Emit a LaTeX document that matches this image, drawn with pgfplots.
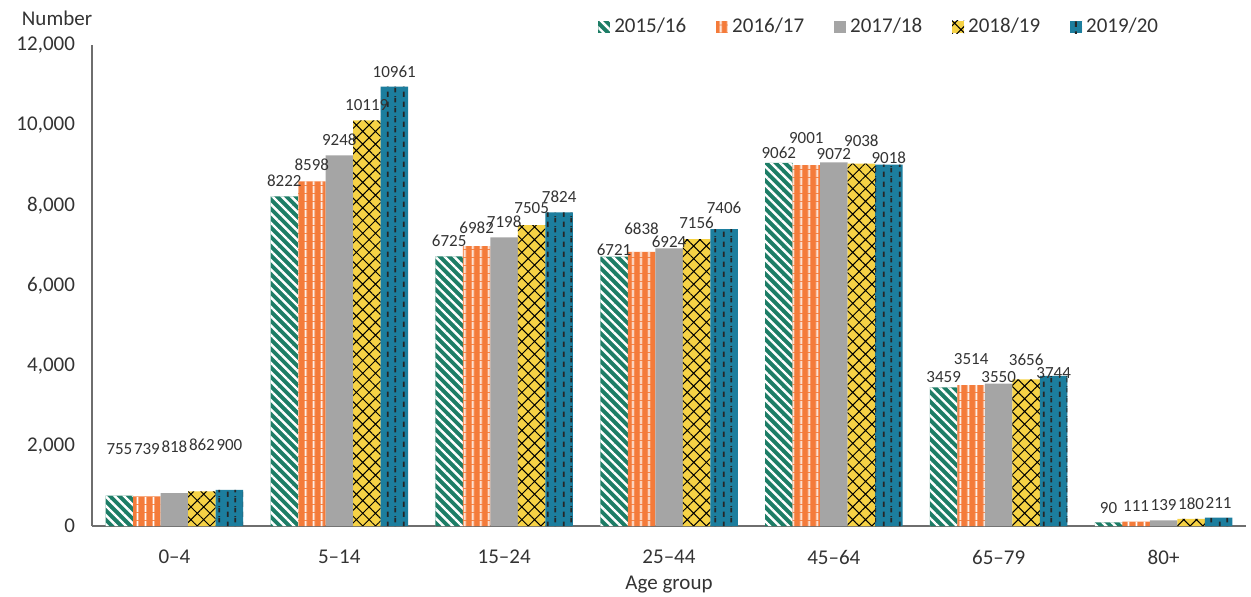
\documentclass[border=0pt]{standalone}
\usepackage{pgfplots}
\usepackage{pgfplotstable}
\pgfplotsset{compat=1.18}
\usepackage{fontspec}
\setmainfont{Carlito}
\usetikzlibrary{patterns,patterns.meta}
\definecolor{cgreen}{HTML}{1D7D66}
\definecolor{corange}{HTML}{F47B3A}
\definecolor{cgray}{HTML}{A5A5A5}
\definecolor{cyellow}{HTML}{F6D245}
\definecolor{cblue}{HTML}{1C7E9E}
\definecolor{txt}{HTML}{333333}
\definecolor{axgray}{HTML}{6E6E6E}
\pgfdeclarepatternformonly{vdash}{\pgfqpoint{0pt}{0pt}}{\pgfqpoint{8pt}{5pt}}{\pgfqpoint{8pt}{5pt}}{%
\pgfpathrectangle{\pgfqpoint{1.5pt}{0pt}}{\pgfqpoint{1pt}{3pt}}%
\pgfpathrectangle{\pgfqpoint{5.5pt}{2.5pt}}{\pgfqpoint{1pt}{2.5pt}}%
\pgfpathrectangle{\pgfqpoint{5.5pt}{0pt}}{\pgfqpoint{1pt}{0.5pt}}%
\pgfusepath{fill}}
% x = age group index, y = number, dy = label lift (pt)
\pgfplotstableread{
x y dy
0 755 19.5
1 8222 3.5
2 6725 3.5
3 6721 -0.5
4 9062 1
5 3459 1
6 90 3
}\tA
\pgfplotstableread{
x y dy
0 739 19.5
1 8598 4
2 6982 5
3 6838 7.5
4 9001 9.5
5 3514 9
6 111 4
}\tB
\pgfplotstableread{
x y dy
0 818 19
1 9248 3.5
2 7198 3.5
3 6924 -1
4 9072 0
5 3550 -0.5
6 139 3.5
}\tC
\pgfplotstableread{
x y dy
0 862 19
1 10119 3.5
2 7505 4.5
3 7156 4
4 9038 7.5
5 3656 5.5
6 180 3.5
}\tD
\pgfplotstableread{
x y dy
0 900 18.5
1 10961 3.5
2 7824 3.5
3 7406 6.5
4 9018 -0.5
5 3744 -2.5
6 211 3.5
}\tE
\begin{document}
\begin{tikzpicture}
\begin{axis}[
  scale only axis, width=577pt, height=240.5pt,
  xmin=-0.5, xmax=6.5, ymin=0, ymax=12000,
  ybar=0pt, bar width=13.75pt,
  axis x line=bottom, axis y line=left,
  axis line style={-, color=axgray, line width=0.8pt},
  major tick length=0pt,
  xtick={0,1,2,3,4,5,6},
  xticklabels={0–4,5–14,15–24,25–44,45–64,65–79,80+},
  ytick={0,2000,4000,6000,8000,10000,12000},
  scaled y ticks=false,
  /pgf/number format/assume math mode=true,
  /pgf/number format/1000 sep={,},
  ticklabel style={font=\fontsize{10.5}{12}\selectfont, text=txt},
  xticklabel style={anchor=center, yshift=-15.5pt},
  yticklabel style={anchor=east, xshift=-5pt},
  xlabel={Age group},
  xlabel style={at={(axis description cs:0.5,0)}, anchor=center, yshift=-29.5pt, font=\fontsize{10.5}{12}\selectfont, text=txt},
  clip=false,
  nodes near coords,
  visualization depends on={\thisrow{dy} \as \dy},
  every node near coord/.append style={font=\fontsize{8.5}{9}\selectfont, text=txt, yshift=\dy pt, inner sep=1pt, /pgf/number format/1000 sep={}},
  legend columns=5,
  legend style={at={(0.683,1)}, anchor=center, yshift=9pt, draw=none, fill=none,
    font=\fontsize{10.5}{12}\selectfont, text=txt,
    /tikz/every even column/.append style={column sep=13pt}},
  legend image code/.code={\path[#1] (0pt,-3.2pt) rectangle (6pt,3.2pt);},
]
\addplot[draw=none, fill=cgreen, postaction={pattern={Lines[angle=-45,distance=3.3pt,line width=1.2pt]}, pattern color=white}]
  table[x=x,y=y] {\tA};
\addplot[draw=none, fill=corange, postaction={pattern={Lines[angle=90,distance=4pt,line width=1pt]}, pattern color=white}]
  table[x=x,y=y] {\tB};
\addplot[draw=none, fill=cgray]
  table[x=x,y=y] {\tC};
\addplot[draw=none, fill=cyellow, postaction={pattern={Hatch[angle=45,distance=4.5pt,line width=0.5pt]}, pattern color=black}]
  table[x=x,y=y] {\tD};
\addplot[draw=none, fill=cblue, postaction={pattern=vdash, pattern color=black!85}]
  table[x=x,y=y] {\tE};
\legend{2015/16,2016/17,2017/18,2018/19,2019/20}
\node[font=\fontsize{10.5}{12}\selectfont, text=txt] at (rel axis cs:0,1) [xshift=-17.5pt, yshift=13.5pt] {Number};
\coordinate (bl) at (rel axis cs:0,0);
\coordinate (tr) at (rel axis cs:1,1);
\end{axis}
\pgfresetboundingbox
\path[use as bounding box] ([shift={(-46pt,-35pt)}]bl) rectangle ([shift={(2.5pt,22.5pt)}]tr);
\end{tikzpicture}
\end{document}
